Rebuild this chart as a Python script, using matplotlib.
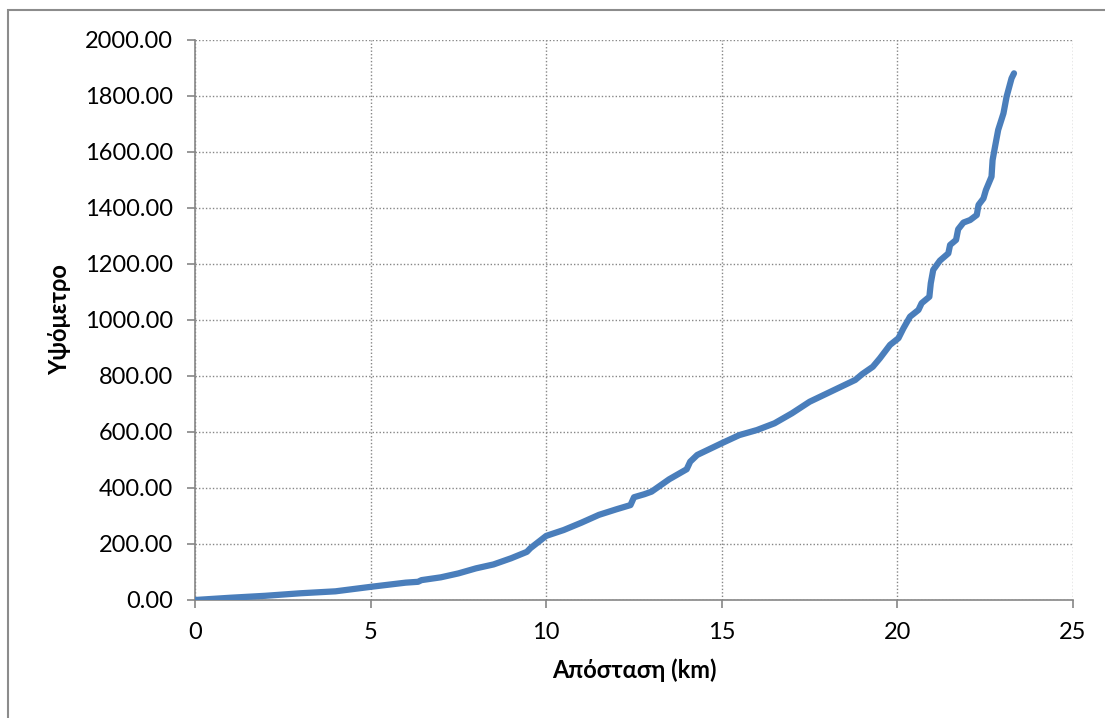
import numpy as np
import matplotlib
matplotlib.use("Agg")
import matplotlib.pyplot as plt
from matplotlib.patches import Rectangle

# distance (km) and elevation
dist_km = [0, 1, 2, 3, 4, 4.5, 5, 6, 6.35, 6.45, 7, 7.5, 8, 8.5, 9, 9.45, 9.55,
           10, 10.5, 11, 11.5, 12, 12.4, 12.5, 12.8, 13, 13.5, 14, 14.1, 14.3,
           14.7, 15, 15.5, 16, 16.5, 17, 17.5, 18, 18.5, 18.8, 19, 19.3, 19.5,
           19.79, 20.03, 20.17, 20.36, 20.6, 20.69, 20.91, 20.95, 21.02, 21.21,
           21.45, 21.5, 21.67, 21.73, 21.88, 22.07, 22.26, 22.31, 22.45, 22.52,
           22.68, 22.71, 22.78, 22.87, 23.02, 23.11, 23.25, 23.32]
elev = [0, 8, 15, 24, 31, 39, 47, 62, 65, 71, 81, 95, 113, 127, 149, 172, 185,
        229, 250, 276, 304, 324, 339, 367, 378, 387, 431, 467, 494, 518,
        542, 560, 589, 607, 631, 667, 708, 738, 768, 786, 807, 833, 863,
        911, 935, 970, 1012, 1036, 1060, 1083, 1131, 1179, 1212,
        1238, 1268, 1286, 1324, 1348, 1357, 1375, 1411, 1434, 1464,
        1512, 1571, 1619, 1679, 1738, 1798, 1863, 1881]

x_ticks = [0, 5, 10, 15, 20, 25]
y_ticks = [0, 200, 400, 600, 800, 1000, 1200, 1400, 1600, 1800, 2000]

plt.rcParams['font.family'] = ['Lato', 'DejaVu Sans']
grey = '#868686'

fig = plt.figure(figsize=(11.05, 7.18), dpi=100)
ax = fig.add_axes([195/1105, 1 - 600/718, (1073 - 195)/1105, (600 - 40)/718])

ax.plot(dist_km, elev, color='#4A7EBB', lw=4.5, solid_capstyle='round',
        solid_joinstyle='round', zorder=3)

ax.set_xlim(0, 25)
ax.set_ylim(0, 2000)
ax.set_xticks(x_ticks)
ax.set_yticks(y_ticks)
ax.set_yticklabels(['%.2f' % v for v in y_ticks])
ax.grid(True, color=grey, linestyle=(0, (1, 1.5)), linewidth=1.0)

for s in ['top', 'right']:
    ax.spines[s].set_visible(False)
for s in ['left', 'bottom']:
    ax.spines[s].set_color(grey)
    ax.spines[s].set_linewidth(1.2)
ax.tick_params(axis='both', direction='out', length=6, color=grey, width=1.2,
               labelsize=17, pad=10)

ax.set_xlabel('Απόσταση (km)', fontsize=17, fontweight='bold', labelpad=11)
ax.set_ylabel('Υψόμετρο', fontsize=17, fontweight='bold', labelpad=10)

# outer chart border
fig.patches.append(Rectangle((8/1105, -0.05), 1.2, 1 - 10/718 + 0.05,
                             transform=fig.transFigure, fill=False,
                             edgecolor='#8c8c8c', linewidth=1.5))

fig.savefig('out.png', dpi=100)
